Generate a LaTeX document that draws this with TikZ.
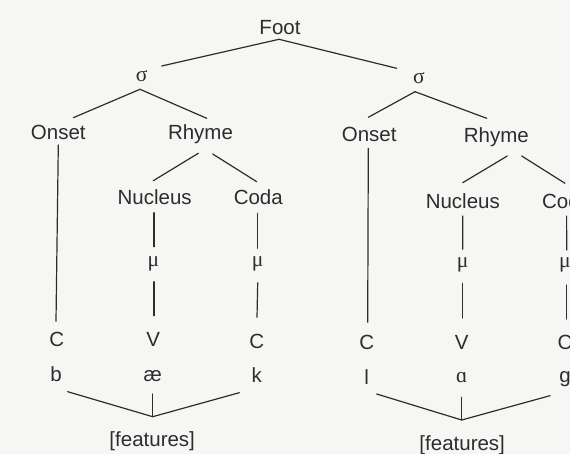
\documentclass[tikz,border=0pt]{standalone}
\usepackage{fontspec}
\setmainfont{Liberation Sans}
\newfontfamily\grk{Liberation Serif}
\usetikzlibrary{calc}
\definecolor{ink}{RGB}{45,45,45}
\definecolor{paper}{RGB}{246,246,244}
\tikzset{
  lab/.style={font=\fontsize{20.5}{24}\selectfont, text=ink, inner sep=0pt, anchor=base},
  glab/.style={font=\fontsize{21.5}{24}\selectfont\grk, text=ink, inner sep=0pt, anchor=base},
  edge/.style={draw=ink, line width=1.2pt, line cap=round, line join=round}
}
\begin{document}
\begin{tikzpicture}[x=1pt,y=-1pt]
\useasboundingbox (0,0) rectangle (570,454);
\fill[paper] (0,0) rectangle (570,454);
\clip (0,0) rectangle (570,454);
% labels
\node[lab]  (foot) at (280,35) {Foot};
\node[glab] (sigL) at (141.7,81.7) {σ};
\node[glab] (sigR) at (419,83.3) {σ};
\node[lab]  (onL) at (58.3,139.3) {Onset};
\node[lab]  (rhL) at (200.5,139.3) {Rhyme};
\node[lab]  (onR) at (369.2,141.7) {Onset};
\node[lab]  (rhR) at (496.3,142.7) {Rhyme};
\node[lab]  (nuL) at (154.7,205) {Nucleus};
\node[lab]  (coL) at (258.3,205) {Coda};
\node[lab]  (nuR) at (462.8,208.3) {Nucleus};
\node[lab]  (coR) at (566.6,208.5) {Coda};
\node[glab] (muNL) at (153.5,266) {μ};
\node[glab] (muCL) at (257.7,266.5) {μ};
\node[glab] (muNR) at (462.7,268) {μ};
\node[glab] (muCR) at (565,268) {μ};
\node[lab]  (cL1) at (56.7,346.7) {C};
\node[lab]  (vL)  at (153.3,346.7) {V};
\node[lab]  (cL2) at (256.7,348) {C};
\node[lab]  (cR1) at (366.7,349.5) {C};
\node[lab]  (vR)  at (461.7,349.5) {V};
\node[lab]  (cR2) at (565,349.5) {C};
\node[lab]  (b)  at (56,381.3) {b};
\node[lab]  (ae) at (152.7,381.5) {æ};
\node[lab]  (k)  at (256.7,382) {k};
\node[lab]  (l)  at (366.7,384) {l};
\node[glab] (ah) at (461.7,382.3) {ɑ};
\node[lab]  (g)  at (565,382) {g};
\node[lab]  (featL) at (152.2,446) {[features]};
\node[lab]  (featR) at (462.2,450.3) {[features]};
% tree edges
\draw[edge] ($(foot.base)+(-1,4.3)$) -- ($(sigL.base)+(20,-15.7)$);
\draw[edge] ($(foot.base)+(-1,4.3)$) -- ($(sigR.base)+(-22.3,-15)$);
\draw[edge] ($(sigL.base)+(-1.7,7.6)$) -- ($(onL.base)+(15,-21.6)$);
\draw[edge] ($(sigL.base)+(-1.7,7.6)$) -- ($(rhL.base)+(6.2,-21)$);
\draw[edge] ($(sigR.base)+(-4,8.4)$) -- ($(onR.base)+(-0.9,-24.4)$);
\draw[edge] ($(sigR.base)+(-4,8.4)$) -- ($(rhR.base)+(-9.6,-24.4)$);
\draw[edge] ($(rhL.base)+(-2.2,14)$) -- ($(nuL.base)+(-1.4,-24.3)$);
\draw[edge] ($(rhL.base)+(12.2,14.7)$) -- ($(coL.base)+(-1.6,-23.3)$);
\draw[edge] ($(rhR.base)+(11,13.3)$) -- ($(nuR.base)+(-0.1,-25.6)$);
\draw[edge] ($(rhR.base)+(25.4,13.3)$) -- ($(coR.base)+(-1.6,-25.2)$);
% verticals
\draw[edge] ($(onL.base)+(0,5.7)$) -- ($(cL1.base)+(-0.7,-25.4)$);
\draw[edge] ($(nuL.base)+(-0.7,7.7)$) -- ($(muNL.base)+(0.5,-19.3)$);
\draw[edge] ($(muNL.base)+(0.5,15.7)$) -- ($(vL.base)+(0.7,-31)$);
\draw[edge] ($(coL.base)+(-0.6,8.3)$) -- ($(muCL.base)+(0,-18.2)$);
\draw[edge] ($(muCL.base)+(0,16.2)$) -- ($(cL2.base)+(0.3,-30.7)$);
\draw[edge] ($(onR.base)+(-0.9,6.6)$) -- ($(cR1.base)+(1,-27.2)$);
\draw[edge] ($(nuR.base)+(0,7.7)$) -- ($(muNR.base)+(0,-18.7)$);
\draw[edge] ($(muNR.base)+(0,15.3)$) -- ($(vR.base)+(1,-31.5)$);
\draw[edge] ($(coR.base)+(0,7.5)$) -- ($(muCR.base)+(1.7,-18)$);
\draw[edge] ($(muCR.base)+(1.7,17)$) -- ($(cR2.base)+(1.7,-30.5)$);
% feature fans
\coordinate (apL) at ($(featL.base)+(0.5,-29.3)$);
\coordinate (apR) at ($(featR.base)+(-0.5,-30.3)$);
\draw[edge] ($(b.base)+(11.7,10.4)$) -- (apL) -- ($(k.base)+(-17.4,10.7)$);
\draw[edge] ($(ae.base)+(0,12.5)$) -- (apL);
\draw[edge] ($(l.base)+(10,10)$) -- (apR) -- ($(g.base)+(-15,13.7)$);
\draw[edge] ($(ah.base)+(0,15)$) -- (apR);
\end{tikzpicture}
\end{document}
